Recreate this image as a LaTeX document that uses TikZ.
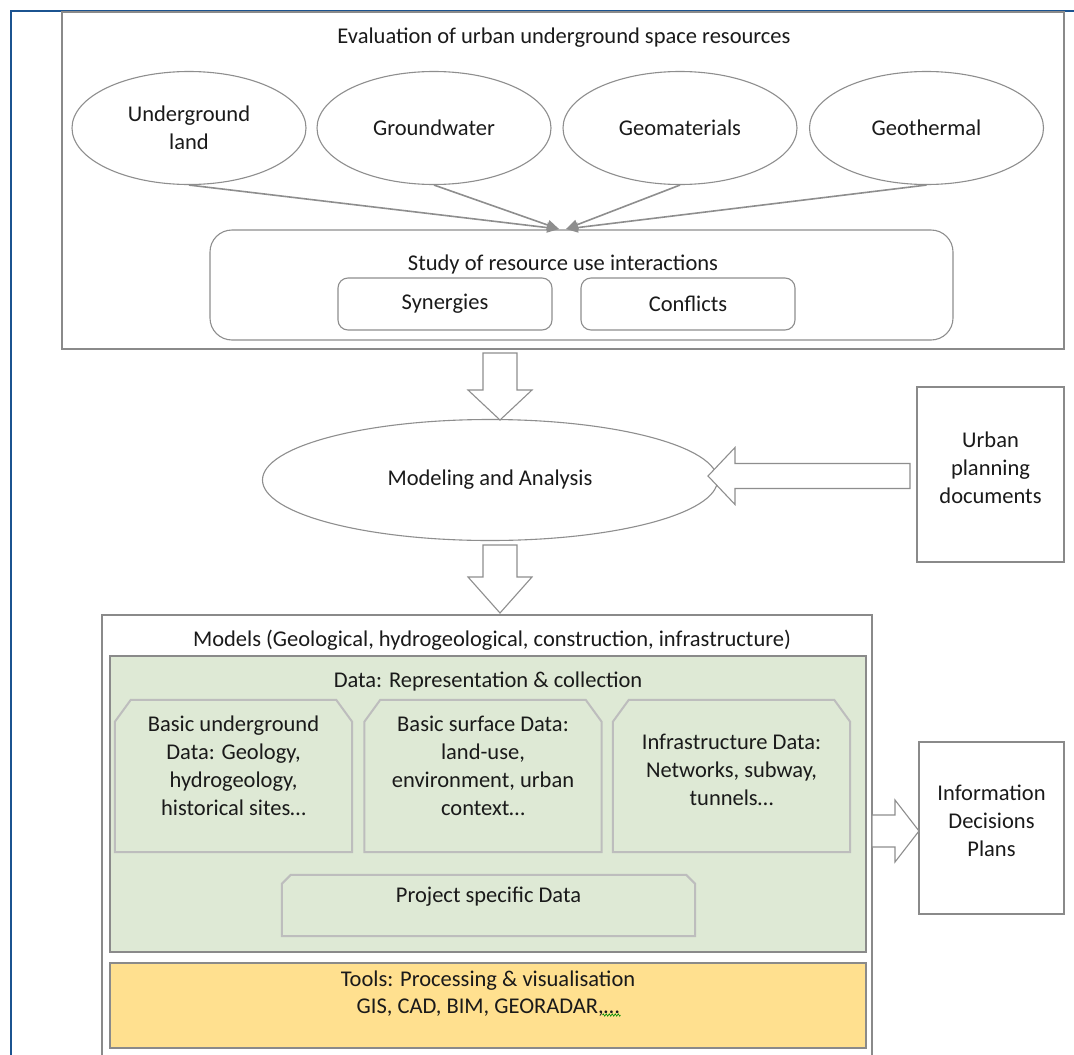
\documentclass[tikz,border=0pt]{standalone}
\usepackage{fontspec}
\setmainfont{Carlito}
\usetikzlibrary{arrows.meta,shapes.geometric,decorations.pathmorphing}

\definecolor{framegray}{HTML}{8A8A8A}
\definecolor{linegray}{HTML}{8E8E8E}
\definecolor{snipgray}{HTML}{BDBDBD}
\definecolor{datagreen}{HTML}{DEE9D5}
\definecolor{toolsyellow}{HTML}{FFE08F}
\definecolor{pageblue}{HTML}{1B5390}
\definecolor{txt}{HTML}{1A1A1A}

\begin{document}
\begin{tikzpicture}[x=1pt,y=-1pt,
  every node/.style={font=\fontsize{22.5}{28}\selectfont, text=txt, inner sep=0pt, align=center},
  frame/.style={draw=framegray, line width=1.6pt},
  resource/.style={ellipse, draw=linegray, line width=1.1pt, minimum width=234pt, minimum height=113pt},
  roundbox/.style={draw=linegray, line width=1.1pt, rounded corners=#1},
  feed/.style={draw=linegray, line width=1.6pt, -{Triangle[length=12pt,width=10pt]}},
  hollow/.style={draw=linegray, line width=1.1pt, fill=white},
  snip/.style={draw=snipgray, line width=2pt},
  datapart/.style={minimum width=237pt, minimum height=152pt},
]
\clip (0,0) rectangle (1074,1055);
\fill[white] (0,0) rectangle (1074,1055);
\draw[pageblue, line width=2pt] (1074,11) -- (11,11) -- (11,1055);

% evaluation of resources
\node[frame, minimum width=1002pt, minimum height=337pt] (eval) at (563,180.5) {};
\node (evaltitle) at (564,38) {Evaluation of urban underground space resources};
\node[resource] (land) at (189,128) {Underground\\land};
\node[resource] (water) at (434,128) {Groundwater};
\node[resource] (geomat) at (680,128) {Geomaterials};
\node[resource] (heat) at (926.5,128) {Geothermal};

\node[roundbox=22pt, minimum width=743pt, minimum height=110pt] (study) at (581.5,285) {};
\node (studytitle) at (563,264) {Study of resource use interactions};
\node[roundbox=10pt, minimum width=214pt, minimum height=52pt] (syn) at (445,304) {Synergies};
\node[roundbox=10pt, minimum width=214pt, minimum height=52pt] (conf) at (688,304) {Conflicts};

\coordinate (meetL) at (559,229);
\coordinate (meetR) at (566,229);
\draw[feed] (land.south) -- (meetL);
\draw[feed] (water.south) -- (meetL);
\draw[feed] (geomat.south) -- (meetR);
\draw[feed] (heat.south) -- (meetR);

% modeling
\coordinate (down1) at (500,353);
\draw[hollow] (down1) ++(-17,0) -- ++(34,0) -- ++(0,37) -- ++(15,0) -- ++(-32,30) -- ++(-32,-30) -- ++(15,0) -- cycle;
\node[ellipse, draw=linegray, line width=1.1pt, minimum width=455pt, minimum height=121pt] (model) at (490,480) {Modeling and Analysis};

\node[frame, minimum width=147pt, minimum height=175pt] (urban) at (990.5,474.5) {};
\node (urbantext) at (990.5,468) {Urban\\planning\\documents};
\coordinate (left1) at (910,476);
\draw[hollow] (left1) ++(0,-12.5) -- ++(-175,0) -- ++(0,-16) -- ++(-27,28.5) -- ++(27,28.5) -- ++(0,-16) -- ++(175,0) -- cycle;

\coordinate (down2) at (500,545);
\draw[hollow] (down2) ++(-17,0) -- ++(34,0) -- ++(0,32) -- ++(15,0) -- ++(-32,36) -- ++(-32,-36) -- ++(15,0) -- cycle;

% models
\node[frame, minimum width=770pt, minimum height=450pt] (models) at (487,840) {};
\node (modelstitle) at (492,640) {Models (Geological, hydrogeological, construction, infrastructure)};
\node[draw=framegray, fill=datagreen, line width=1.6pt, minimum width=756pt, minimum height=296pt] (data) at (488,804) {};
\node (datatitle) at (488,681) {Data: Representation \& collection};

\node[datapart] (ubdata) at (233.5,776) {};
\node[datapart] (sfdata) at (483,776) {};
\node[datapart] (infdata) at (731.5,776) {};
\foreach \b in {ubdata,sfdata,infdata}
  \draw[snip] (\b.south west) -- ([yshift=-22pt]\b.north west) -- ([xshift=16pt]\b.north west)
    -- ([xshift=-16pt]\b.north east) -- ([yshift=-22pt]\b.north east) -- (\b.south east) -- cycle;
\node (ubtext) at (233.5,766) {Basic underground\\Data: Geology,\\hydrogeology,\\historical sites…};
\node (sftext) at (483,766) {Basic surface Data:\\land-use,\\environment, urban\\context…};
\node (inftext) at (731.5,770) {Infrastructure Data:\\Networks, subway,\\tunnels…};

\node[minimum width=413pt, minimum height=61pt] (project) at (488.5,905.5) {};
\draw[snip] (project.south west) -- ([yshift=-9pt]project.north west) -- ([xshift=9pt]project.north west)
  -- ([xshift=-9pt]project.north east) -- ([yshift=-9pt]project.north east) -- (project.south east) -- cycle;
\node (projecttext) at (488.5,897) {Project specific Data};

\node[draw=framegray, fill=toolsyellow, line width=1.6pt, minimum width=756pt, minimum height=85pt] (tools) at (488,1005.5) {};
\node (toolstitle) at (488,981) {Tools: Processing \& visualisation};
\node (toolslist) at (488,1008) {GIS, CAD, BIM, GEORADAR,…};
\draw[green!55!black, line width=0.6pt, decorate, decoration={zigzag, amplitude=1.2pt, segment length=3pt}]
  ([xshift=-17pt,yshift=-7pt]toolslist.east) -- ([xshift=1pt,yshift=-7pt]toolslist.east);

% outputs
\node[frame, minimum width=145pt, minimum height=172pt] (info) at (991.5,828) {};
\node (infotext) at (991.5,821) {Information\\Decisions\\Plans};
\coordinate (right1) at (872,831);
\draw[hollow] (right1) ++(0,-16) -- ++(23,0) -- ++(0,-15) -- ++(24,31) -- ++(-24,31) -- ++(0,-15) -- ++(-23,0) -- cycle;
\end{tikzpicture}
\end{document}
